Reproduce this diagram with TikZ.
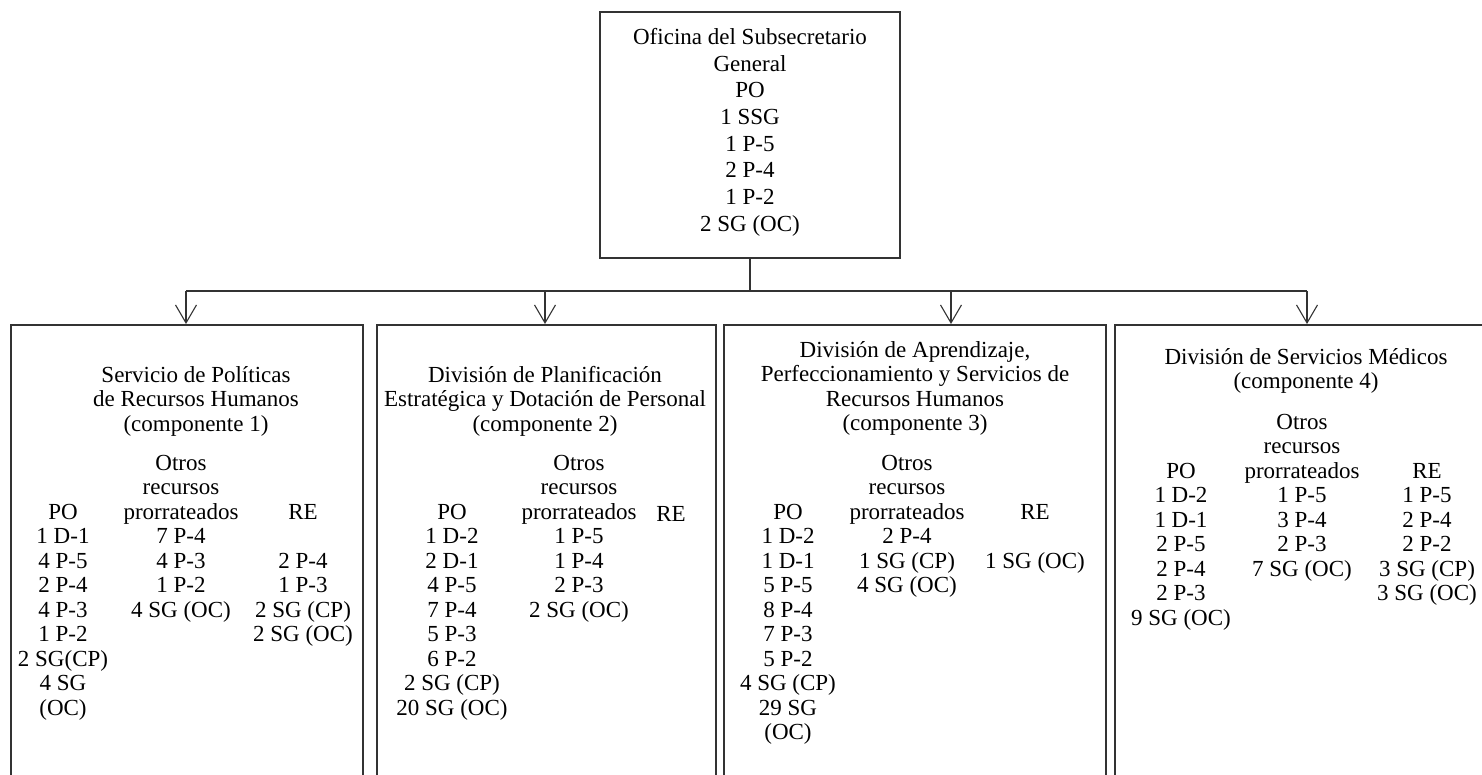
\documentclass[tikz,border=0pt]{standalone}
\usepackage{fontspec}
\setmainfont{Liberation Serif}
\usetikzlibrary{arrows.meta}
\tikzset{
  x=1pt, y=-1pt,
  line/.style={draw=black!80, line width=1.8pt},
  boxnode/.style={line, rectangle, inner sep=0pt, anchor=north west},
  txtbase/.style={inner sep=0pt, anchor=north, yshift=17pt, align=center,
    execute at begin node={\rule{0pt}{17pt}}},
  txt/.style={txtbase, font=\fontsize{23}{24.5}\selectfont},
  toptxt/.style={txtbase, font=\fontsize{23}{26.7}\selectfont},
  arr/.style={draw=black!80, line width=1.5pt, -{Straight Barb[length=18pt,width=21pt,line width=1.1pt]}},
}
\begin{document}
\begin{tikzpicture}
\useasboundingbox (0,0) rectangle (1482,774);
\clip (0,0) rectangle (1482,774);
% boxes
\node[line, rectangle, inner sep=0pt, minimum width=300pt, minimum height=246pt] (top) at (750,135) {};
\node[boxnode, minimum width=352pt, minimum height=500pt] (b1) at (10,324) {};
\node[boxnode, minimum width=339pt, minimum height=500pt] (b2) at (376,324) {};
\node[boxnode, minimum width=382pt, minimum height=500pt] (b3) at (723,324) {};
\node[boxnode, minimum width=380pt, minimum height=500pt] (b4) at (1114,324) {};
% top text
\node[toptxt] (toptext) at (750,45) {Oficina del Subsecretario\\General\\PO\\1 SSG\\1 P-5\\2 P-4\\1 P-2\\2 SG (OC)};
% box 1
\node[txt] (t1) at (196,383) {Servicio de Políticas\\de Recursos Humanos\\(componente 1)};
\node[txt] (po1) at (63,521) {PO\\1 D-1\\4 P-5\\2 P-4\\4 P-3\\1 P-2\\2 SG(CP)\\4 SG\\(OC)};
\node[txt] (ot1) at (181,472) {Otros\\recursos\\prorrateados\\7 P-4\\4 P-3\\1 P-2\\4 SG (OC)};
\node[txt] (re1) at (303,521) {RE\\\mbox{}\\2 P-4\\1 P-3\\2 SG (CP)\\2 SG (OC)};
% box 2
\node[txt] (t2) at (545,383) {División de Planificación\\Estratégica y Dotación de Personal\\(componente 2)};
\node[txt] (po2) at (452,521) {PO\\1 D-2\\2 D-1\\4 P-5\\7 P-4\\5 P-3\\6 P-2\\2 SG (CP)\\20 SG (OC)};
\node[txt] (ot2) at (579,472) {Otros\\recursos\\prorrateados\\1 P-5\\1 P-4\\2 P-3\\2 SG (OC)};
\node[txt] (re2) at (671,521) {RE};
% box 3
\node[txt] (t3) at (915,358) {División de Aprendizaje,\\Perfeccionamiento y Servicios de\\Recursos Humanos\\(componente 3)};
\node[txt] (po3) at (788,521) {PO\\1 D-2\\1 D-1\\5 P-5\\8 P-4\\7 P-3\\5 P-2\\4 SG (CP)\\29 SG\\(OC)};
\node[txt] (ot3) at (907,472) {Otros\\recursos\\prorrateados\\2 P-4\\1 SG (CP)\\4 SG (OC)};
\node[txt] (re3) at (1035,521) {RE\\\mbox{}\\1 SG (OC)};
% box 4
\node[txt] (t4) at (1306,365) {División de Servicios Médicos\\(componente 4)};
\node[txt] (po4) at (1181,480) {PO\\1 D-2\\1 D-1\\2 P-5\\2 P-4\\2 P-3\\9 SG (OC)};
\node[txt] (ot4) at (1302,431) {Otros\\recursos\\prorrateados\\1 P-5\\3 P-4\\2 P-3\\7 SG (OC)};
\node[txt] (re4) at (1427,480) {RE\\1 P-5\\2 P-4\\2 P-2\\3 SG (CP)\\3 SG (OC)};
% connectors
\coordinate (bar) at (750,291);
\coordinate (a1) at (186,291);
\coordinate (a2) at (545,291);
\coordinate (a3) at (951,291);
\coordinate (a4) at (1307,291);
\draw[line] (top.south) -- (bar);
\draw[line] (a1) -- (a4);
\draw[arr] (a1) -- (a1 |- b1.north);
\draw[arr] (a2) -- (a2 |- b2.north);
\draw[arr] (a3) -- (a3 |- b3.north);
\draw[arr] (a4) -- (a4 |- b4.north);
\end{tikzpicture}
\end{document}
